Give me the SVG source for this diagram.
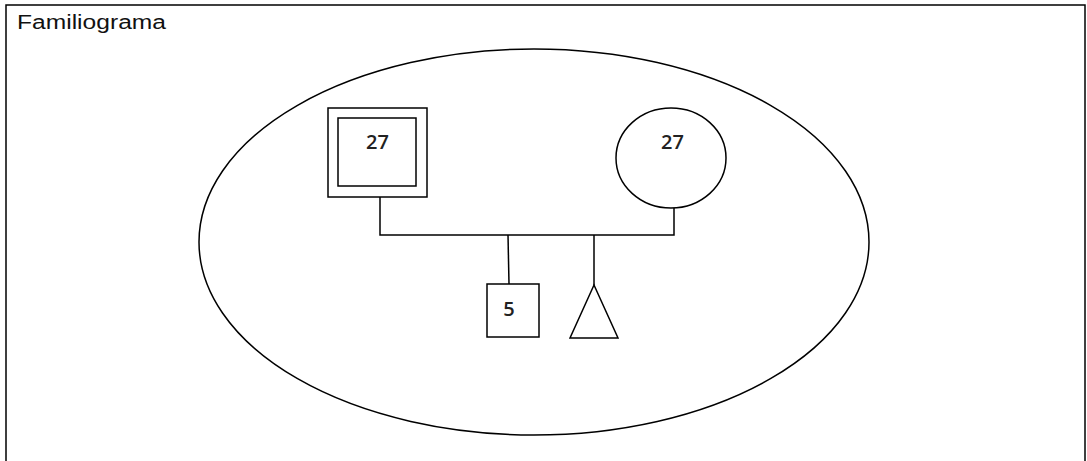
<svg xmlns="http://www.w3.org/2000/svg" width="1087" height="461" viewBox="0 0 1087 461">
  <style>
    .ln { fill: none; stroke: #000; stroke-width: 1.5; }
    .shape { fill: #fff; stroke: #000; stroke-width: 1.5; }
    .title { font-family: "Liberation Sans", Arial, sans-serif; font-size: 20px; fill: #111; }
    .age { font-family: "Open Sans", "DejaVu Sans", sans-serif; font-size: 20px; font-weight: 600; fill: #222; text-anchor: middle; }
  </style>
  <!-- frame -->
  <rect x="6" y="5" width="1079" height="470" fill="#fff" stroke="#000" stroke-width="1.5"/>
  <text class="title" x="17" y="29" textLength="149" lengthAdjust="spacingAndGlyphs">Familiograma</text>
  <!-- household boundary -->
  <ellipse id="household" cx="534" cy="242" rx="335" ry="193" class="ln"/>
  <g id="connectors">
    <polyline class="ln" points="380,197 380,235 674,235 674,208"/>
    <line class="ln" x1="508" y1="235" x2="509" y2="284"/>
    <line class="ln" x1="594" y1="235" x2="594" y2="285"/>
  </g>
  <g id="father">
    <rect class="shape" x="328" y="108" width="99" height="89"/>
    <rect class="shape" x="338" y="118" width="78" height="68"/>
    <text class="age" x="377.5" y="149">27</text>
  </g>
  <g id="mother">
    <ellipse class="shape" cx="671" cy="158" rx="55" ry="50"/>
    <text class="age" x="672.5" y="149">27</text>
  </g>
  <g id="son">
    <rect class="shape" x="487" y="284" width="52" height="53"/>
    <text class="age" x="509" y="316">5</text>
  </g>
  <g id="pregnancy">
    <polygon class="shape" points="594,285 570,338 618,338"/>
  </g>
</svg>
